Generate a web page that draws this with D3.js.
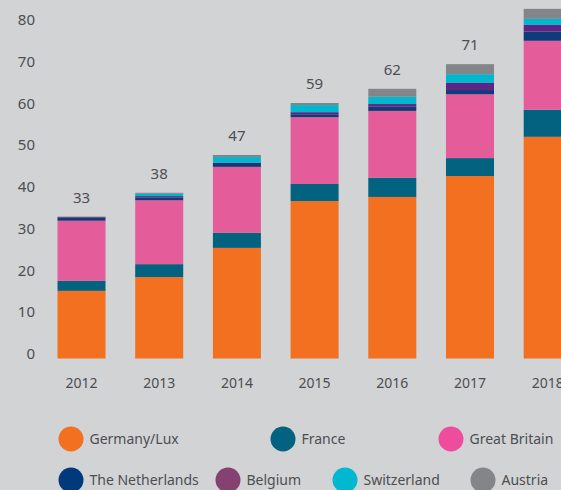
<!DOCTYPE html>
<html>

<head>
  <meta charset="utf-8" />
  <title>Stacked bars</title>
  <style>
    body {
      margin: 0;
      background-color: #d2d3d5;
    }

    text {
      font-family: "Noto Sans", sans-serif;
      fill: #4d4e51;
    }
  </style>
  <script src="https://cdnjs.cloudflare.com/ajax/libs/d3/7.8.5/d3.min.js"></script>
</head>

<body>
  <div id="chartArea"></div>
  <script>
    var years = ['2012', '2013', '2014', '2015', '2016', '2017', '2018'];
    var countries = ['Germany/Lux', 'France', 'Great Britain', 'The Netherlands', 'Belgium', 'Switzerland', 'Austria'];

    var germany = [16.2, 19.5, 26.5, 37.7, 38.7, 43.7, 53.1];
    var france = [2.4, 3.1, 3.6, 4.1, 4.6, 4.3, 6.5];
    var britain = [14.4, 15.3, 15.8, 16.0, 16.0, 15.3, 16.5];
    var netherlands = [0.65, 0.7, 1.0, 0.7, 1.0, 1.0, 2.2];
    var belgium = [0.2, 0.3, 0.05, 0.5, 0.65, 1.7, 1.6];
    var switzerland = [0, 0.55, 1.3, 1.7, 1.75, 2.1, 1.45];
    var austria = [0.15, 0.25, 0.5, 0.5, 1.9, 2.4, 2.4];
    var totals = [33, 38, 47, 59, 62, 71, null];
    var yTicks = [0, 10, 20, 30, 40, 50, 60, 70, 80];

    var barColors = ['#f37021', '#03627f', '#e45c9a', '#0e3b7a', '#5f2484', '#00b7ce', '#848589'];
    var legendColors = ['#f37021', '#03627f', '#ee4d9d', '#003a7d', '#844171', '#00b8d0', '#848589'];

    var series = [germany, france, britain, netherlands, belgium, switzerland, austria];
    var table = years.map(function (y, i) {
      var row = { year: y };
      countries.forEach(function (c, k) { row[c] = series[k][i]; });
      return row;
    });

    var W = 561, H = 490;
    var svg = d3.select('#chartArea').append('svg')
      .attr('width', W)
      .attr('height', H);

    var xScale = d3.scaleBand()
      .domain(years)
      .range([57.5, 571.7])
      .paddingInner(0.382)
      .paddingOuter(0);

    var yScale = d3.scaleLinear()
      .domain([0, 80])
      .range([358.5, 24.5]);

    var stack = d3.stack().keys(countries)(table);

    // bars
    svg.append('g')
      .selectAll('g')
      .data(stack)
      .enter()
      .append('g')
      .attr('fill', (d, i) => barColors[i])
      .selectAll('rect')
      .data(d => d)
      .enter()
      .append('rect')
      .attr('x', d => xScale(d.data.year))
      .attr('width', xScale.bandwidth())
      .attr('y', d => yScale(d[1]))
      .attr('height', d => yScale(d[0]) - yScale(d[1]));

    // y labels, baseline on the value
    var yAxis = d3.axisLeft(yScale)
      .tickValues(yTicks)
      .tickSize(0)
      .tickPadding(0);
    var yg = svg.append('g')
      .attr('transform', 'translate(35,0)')
      .call(yAxis);
    yg.select('.domain').remove();
    yg.selectAll('text')
      .attr('dy', '0')
      .attr('x', 0)
      .style('font-size', '15px')
      .style('font-family', '"Noto Sans", sans-serif')
      .attr('fill', '#4d4e51');

    // x labels
    var xAxis = d3.axisBottom(xScale)
      .tickSize(0)
      .tickPadding(0);
    var xg = svg.append('g')
      .attr('transform', 'translate(0,388)')
      .call(xAxis);
    xg.select('.domain').remove();
    xg.selectAll('text')
      .attr('dy', '0')
      .attr('y', 0)
      .style('font-size', '14px')
      .style('font-family', '"Noto Sans", sans-serif')
      .attr('fill', '#4d4e51');

    // totals above bars
    var tops = stack[stack.length - 1];
    svg.append('g')
      .selectAll('text')
      .data(tops)
      .enter()
      .filter((d, i) => totals[i] != null)
      .append('text')
      .attr('x', d => xScale(d.data.year) + xScale.bandwidth() / 2)
      .attr('y', d => yScale(d[1]) - 14)
      .attr('text-anchor', 'middle')
      .style('font-size', '15px')
      .text(d => totals[years.indexOf(d.data.year)]);

    // legend
    var legendPos = [
      [71, 439], [283, 439], [451, 439],
      [71, 480], [228, 480], [345, 480], [483, 480]
    ];
    var lg = svg.append('g')
      .selectAll('g')
      .data(countries)
      .enter()
      .append('g')
      .attr('transform', (d, i) => 'translate(' + legendPos[i][0] + ',' + legendPos[i][1] + ')');
    lg.append('circle')
      .attr('r', 12.5)
      .attr('fill', (d, i) => legendColors[i]);
    lg.append('text')
      .attr('x', 18.5)
      .attr('dy', '0.35em')
      .style('font-size', '14px')
      .text(d => d);
  </script>
</body>

</html>
